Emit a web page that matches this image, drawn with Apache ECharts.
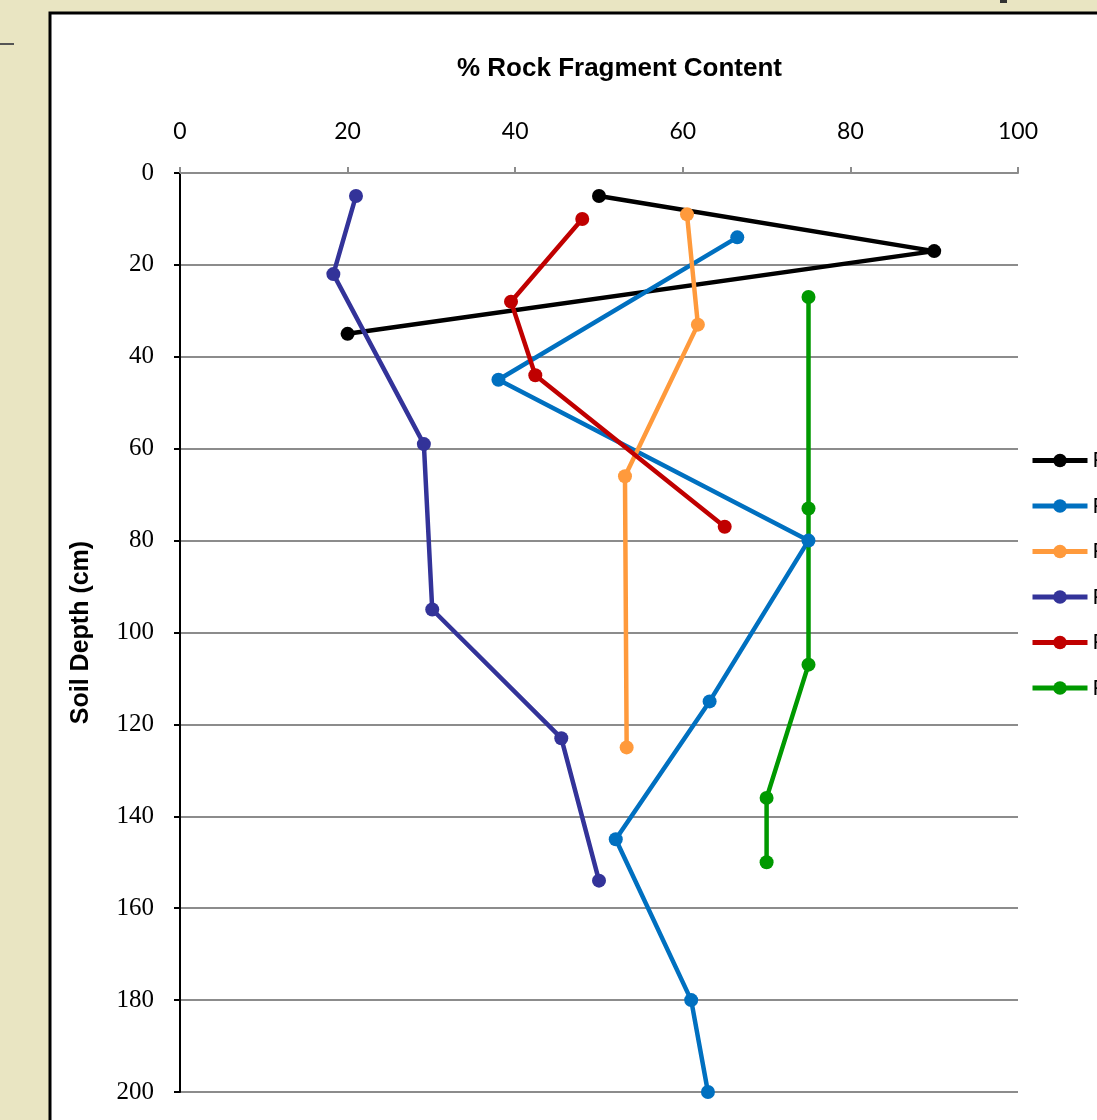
<!DOCTYPE html>
<html>
<head>
<meta charset="utf-8">
<script src="https://cdn.jsdelivr.net/npm/echarts@6/dist/echarts.min.js"></script>
<style>
  html, body { margin: 0; padding: 0; overflow: hidden; background: #E9E5C2; }
  #chart { width: 1097px; height: 1120px; }
</style>
</head>
<body>
<div id="chart"></div>
<script>
// Rock fragment content (%) against soil depth (cm) for six profiles
const profileNames = ['Profile 1', 'Profile 2', 'Profile 3', 'Profile 4', 'Profile 5', 'Profile 6'];
const profileColors = ['#000000', '#0070C0', '#FF9A3C', '#333399', '#C00000', '#009900'];

// each pair: [rock fragment %, depth cm]
const profile1 = [[50, 5], [90, 17], [20, 35]];
const profile2 = [[66.5, 14], [38, 45], [75, 80], [63.2, 115], [52, 145], [61, 180], [63, 200]];
const profile3 = [[60.5, 9], [61.8, 33], [53.1, 66], [53.3, 125]];
const profile4 = [[21, 5], [18.3, 22], [29.1, 59], [30.1, 95], [45.5, 123], [50, 154]];
const profile5 = [[48, 10], [39.5, 28], [42.4, 44], [65, 77]];
const profile6 = [[75, 27], [75, 73], [75, 107], [70, 136], [70, 150]];
const profiles = [profile1, profile2, profile3, profile4, profile5, profile6];

const chart = echarts.init(document.getElementById('chart'));

chart.setOption({
  backgroundColor: '#E9E5C2',
  animation: false,
  title: {
    text: '% Rock Fragment Content',
    left: 452,
    top: 51,
    textStyle: { fontFamily: 'Liberation Sans', fontWeight: 'bold', fontSize: 26, color: '#000' }
  },
  graphic: [
    { type: 'rect', z: -10, shape: { x: 50, y: 13, width: 1100, height: 1200 },
      style: { fill: '#ffffff', stroke: '#000000', lineWidth: 3 } },
    { type: 'line', z: -10, shape: { x1: 0, y1: 44, x2: 14, y2: 44 },
      style: { stroke: '#555555', lineWidth: 2 } },
    { type: 'rect', z: -10, shape: { x: 1000, y: 0, width: 7, height: 3 },
      style: { fill: '#333333' } }
  ],
  legend: {
    orient: 'vertical',
    left: 1025,
    top: 445,
    padding: 5,
    itemWidth: 55,
    itemHeight: 17,
    itemGap: 24.5,
    lineStyle: { width: 5 },
    textStyle: { fontFamily: 'Lato', fontSize: 21, color: '#000' },
    data: profileNames
  },
  grid: { left: 180, top: 173, width: 838, height: 919 },
  xAxis: {
    type: 'value',
    position: 'top',
    min: 0, max: 100, interval: 20,
    axisLine: { show: true, onZero: false, lineStyle: { color: '#8c8c8c', width: 2 } },
    axisTick: { show: true, length: 6, lineStyle: { color: '#8c8c8c', width: 2 } },
    axisLabel: { margin: 30, fontFamily: 'Lato', fontSize: 23, color: '#000' },
    splitLine: { show: false }
  },
  yAxis: {
    type: 'value',
    inverse: true,
    min: 0, max: 200, interval: 20,
    name: 'Soil Depth (cm)',
    nameLocation: 'middle',
    nameGap: 86,
    nameTextStyle: { fontFamily: 'Liberation Sans', fontWeight: 'bold', fontSize: 25, color: '#000' },
    axisLine: { show: true, onZero: false, lineStyle: { color: '#000', width: 2 } },
    axisTick: { show: true, length: 6, lineStyle: { color: '#000', width: 2 } },
    axisLabel: { margin: 26, fontFamily: 'Liberation Serif', fontSize: 25, color: '#000' },
    splitLine: { show: true, lineStyle: { color: '#8c8c8c', width: 2 } }
  },
  series: profiles.map((data, i) => ({
    name: profileNames[i],
    type: 'line',
    data: data,
    symbol: 'circle',
    symbolSize: 14,
    showAllSymbol: true,
    color: profileColors[i],
    lineStyle: { width: 4.5, color: profileColors[i] },
    itemStyle: { color: profileColors[i] }
  }))
});
</script>
</body>
</html>
